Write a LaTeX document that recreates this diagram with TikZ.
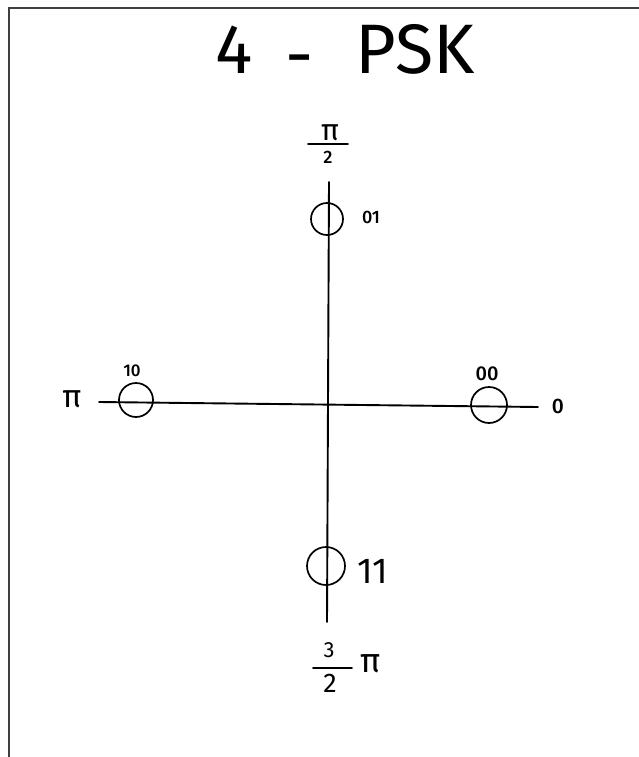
\documentclass[tikz,border=0pt]{standalone}
\usepackage{fontspec}
\setmainfont{Fira Sans}
\newfontfamily\smallhand{Fira Sans Medium}
\begin{document}
\begin{tikzpicture}[x=1pt,y=-1pt,
  frame/.style={draw=black!75, line width=1.6pt},
  axis/.style={line width=1.9pt, line cap=round},
  sym/.style={draw, circle, line width=1.7pt, inner sep=0pt, fill=none},
  txt/.style={inner sep=0pt, anchor=center},
  fracbar/.style={line width=1.6pt, line cap=round}]
\useasboundingbox (0,0) rectangle (639,757);
% frame
\coordinate (fbl) at (9,757);
\coordinate (ftl) at (9,8);
\coordinate (ftr) at (639,8);
\draw[frame] (fbl) -- (ftl) -- (ftr);
% title
\node[txt, font=\fontsize{70}{70}\selectfont] (t4) at (234,50) {4};
\node[txt, font=\fontsize{70}{70}\selectfont] (tdash) at (300,67) {-};
\node[txt, font=\fontsize{70}{70}\selectfont] (tpsk) at (415,49) {PSK};
% axes
\coordinate (xl) at (99,402);
\coordinate (xr) at (538,407);
\coordinate (yt) at (329,182);
\coordinate (yb) at (327,622);
\draw[axis] (xl) -- (xr);
\draw[axis] (yt) -- (yb);
% constellation points
\node[sym, minimum size=32pt] (c01) at (327,219) {};
\node[sym, minimum size=34pt] (c10) at (136,400) {};
\node[sym, minimum size=36pt] (c00) at (489,405) {};
\node[sym, minimum size=38pt] (c11) at (326,566) {};
% point labels
\node[txt, font=\smallhand\fontsize{18}{18}\selectfont] (l01) at (371,217) {01};
\node[txt, font=\smallhand\fontsize{17}{17}\selectfont] (l10) at (132,371) {10};
\node[txt, font=\smallhand\fontsize{20}{20}\selectfont] (l00) at (487,374) {00};
\node[txt, font=\fontsize{36}{36}\selectfont] (l11) at (373,571) {11};
% axis labels
\node[txt, font=\smallhand\fontsize{21}{21}\selectfont] (lzero) at (558,406) {0};
\node[txt, font=\fontsize{32}{32}\selectfont] (lpi) at (72,399) {π};
% pi/2
\node[txt, font=\fontsize{30}{30}\selectfont] (phn) at (330,133) {π};
\node[txt, font=\smallhand\fontsize{18}{18}\selectfont] (phd) at (328,157) {2};
\coordinate (phbl) at (308,144);
\coordinate (phbr) at (348,144);
\draw[fracbar] (phbl) -- (phbr);
% 3/2 pi
\node[txt, font=\fontsize{22}{22}\selectfont] (tpn) at (329,650) {3};
\node[txt, font=\fontsize{27}{27}\selectfont] (tpd) at (330,683) {2};
\coordinate (tpbl) at (313,668);
\coordinate (tpbr) at (352,668);
\draw[fracbar] (tpbl) -- (tpbr);
\node[txt, font=\fontsize{34}{34}\selectfont] (tpp) at (371,664) {π};
\end{tikzpicture}
\end{document}
